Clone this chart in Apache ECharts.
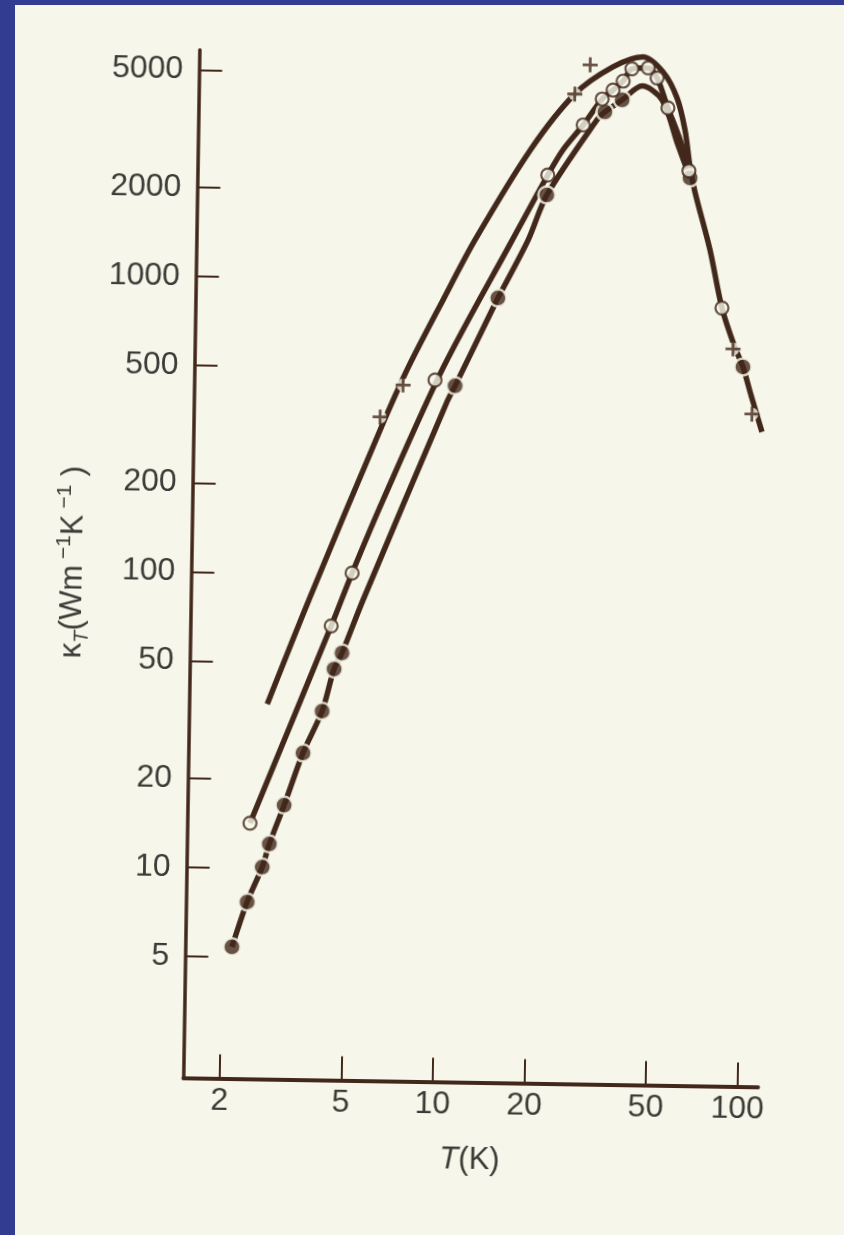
<!DOCTYPE html>
<html>
<head>
<meta charset="utf-8">
<title>kappa_T vs T</title>
<script src="https://cdn.jsdelivr.net/npm/echarts@6/dist/echarts.min.js"></script>
<style>
  html, body { margin: 0; padding: 0; width: 844px; height: 1235px; background: #323c91; overflow: hidden; }
  #paper { position: absolute; left: 15px; top: 5px; right: 0; bottom: 0; background: #f6f7ea; }
  /* the scanned figure sits slightly rotated on the slide */
  #chart { position: absolute; left: 0; top: 0; width: 844px; height: 1235px; transform: rotate(0.9deg); transform-origin: 422px 617.5px; }
</style>
</head>
<body>
<div id="paper"></div>
<div id="chart"></div>
<script>
  // 坐标轴刻度
  var xTicks = [2, 5, 10, 20, 50, 100]
  var yTicks = [5, 10, 20, 50, 100, 200, 500, 1000, 2000, 5000]
  var xMin = 1.52
  var xMax = 116.7
  var yMin = 1.935
  var yMax = 5847

  // 数据点 (T in K, kappa in W/m/K)
  var crossT = [6.21, 7.36, 26.0, 29.1, 88.5, 102.9]
  var crossK = [342, 440, 4340, 5460, 607, 366]

  var openT = [2.44, 4.40, 5.12, 9.36, 21.4, 27.8, 32.0, 34.7, 37.4, 39.9, 45.1, 48.3, 52.6, 62.1, 81.0]
  var openK = [14.2, 66.7, 101, 459, 2300, 3415, 4190, 4500, 4830, 5320, 5370, 4970, 3940, 2420, 834]

  var filledT = [2.16, 2.41, 2.69, 2.83, 3.15, 3.61, 4.15, 4.52, 4.79, 10.9, 14.9, 21.3, 32.7, 37.2, 62.7, 95.6]
  var filledK = [5.40, 7.68, 10.1, 12.1, 16.4, 24.7, 34.3, 47.7, 54.1, 440, 877, 1970, 3790, 4170, 2290, 528]

  // 曲线
  var topT = [2.74, 3.74, 6.22, 7.62, 9.85, 12.45, 18.7, 26.0, 34.6, 43.3, 50.5, 56.3, 60.0, 62.6, 65.2, 73.5, 81.0, 89.1, 95.6, 101.9, 111.2]
  var topK = [36.0, 83.4, 309, 503, 858, 1375, 2790, 4340, 5390, 5850, 5210, 4260, 3325, 2490, 2050, 1310, 834, 626, 528, 425, 319]

  var midT = [2.44, 4.40, 5.12, 6.41, 9.93, 16.5, 21.4, 23.9, 27.8, 32.0, 34.7, 37.4, 39.9, 45.1, 48.3, 52.6, 57.9, 62.1]
  var midK = [14.2, 66.7, 101, 179, 505, 1381, 2300, 2800, 3415, 4190, 4500, 4830, 5320, 5370, 4970, 3940, 3074, 2420]

  var lowT = [2.16, 2.41, 2.69, 2.83, 3.15, 3.61, 4.15, 4.52, 4.79, 5.58, 10.27, 10.9, 14.28, 14.9, 18.6, 21.3, 30.8, 32.7, 37.2, 43.2, 50.3, 57.0, 62.7]
  var lowK = [5.40, 7.68, 10.1, 12.1, 16.4, 24.7, 34.3, 47.7, 54.1, 82.0, 388, 440, 798, 877, 1384, 1970, 3556, 3790, 4170, 4660, 4190, 2955, 2290]

  var ink = '#42281b'
  var paper = '#f6f7ea'
  var textColor = '#3d3a37'
  var font = '"Liberation Sans", Arial, Helvetica, sans-serif'
  var lg = Math.log10

  function pairs(t, k) {
    return t.map(function (v, i) { return [v, k[i]] })
  }

  function curve(name, t, k) {
    return {
      name: name,
      type: 'line',
      xAxisIndex: 0,
      yAxisIndex: 0,
      data: pairs(t, k),
      showSymbol: false,
      smooth: 0.3,
      clip: false,
      silent: true,
      z: 2,
      lineStyle: { color: ink, width: 5.5, cap: 'butt' }
    }
  }

  var tickLabel = {
    fontSize: 32,
    fontFamily: font,
    color: textColor,
    formatter: function (v) { return String(Math.round(Math.pow(10, v))) }
  }

  var chart = echarts.init(document.getElementById('chart'), null, { renderer: 'canvas' })
  var option = {
    animation: false,
    backgroundColor: 'transparent',
    grid: { left: 190.6, top: 53.5, width: 574.8, height: 1028, outerBoundsMode: 'none' },
    xAxis: [
      { type: 'log', min: xMin, max: xMax, show: false, position: 'top' },
      {
        type: 'value',
        min: lg(xMin),
        max: lg(xMax),
        position: 'bottom',
        splitLine: { show: false },
        axisLine: { show: true, lineStyle: { color: ink, width: 4 } },
        axisTick: { show: true, inside: true, length: 24, customValues: xTicks.map(lg), lineStyle: { color: ink, width: 2 } },
        axisLabel: Object.assign({ margin: 7, customValues: xTicks.map(lg) }, tickLabel),
        name: '{i|T}{n|(K)}',
        nameLocation: 'middle',
        nameGap: 62,
        nameTextStyle: {
          color: textColor,
          fontFamily: font,
          rich: {
            i: { fontSize: 31, fontStyle: 'italic', fontFamily: font, color: textColor },
            n: { fontSize: 31, fontFamily: font, color: textColor }
          }
        }
      }
    ],
    yAxis: [
      { type: 'log', min: yMin, max: yMax, show: false, position: 'right' },
      {
        type: 'value',
        min: lg(yMin),
        max: lg(yMax),
        position: 'left',
        splitLine: { show: false },
        axisLine: { show: true, lineStyle: { color: ink, width: 3.5 } },
        axisTick: { show: true, inside: true, length: 23, customValues: yTicks.map(lg), lineStyle: { color: ink, width: 2 } },
        axisLabel: Object.assign({ margin: 16, customValues: yTicks.map(lg) }, tickLabel),
        name: '{n|κ}{sub|T}{n|(Wm}{sup| −1}{n|K}{sup| −1}{n| )}',
        nameLocation: 'middle',
        nameRotate: 90,
        nameGap: 90,
        nameTextStyle: {
          color: textColor,
          fontFamily: font,
          rich: {
            n: { fontSize: 31, lineHeight: 40, fontFamily: font, color: textColor },
            sub: { fontSize: 20, lineHeight: 20, fontStyle: 'italic', verticalAlign: 'bottom', fontFamily: font, color: textColor },
            sup: { fontSize: 21, lineHeight: 21, verticalAlign: 'top', fontFamily: font, color: textColor }
          }
        }
      }
    ],
    series: [
      curve('top', topT, topK),
      curve('middle', midT, midK),
      curve('low', lowT, lowK),
      {
        // gap in the line around each cross
        name: 'crossGap',
        type: 'scatter',
        data: pairs(crossT, crossK),
        symbol: 'circle',
        symbolSize: 13,
        itemStyle: { color: paper },
        silent: true,
        clip: false,
        z: 3
      },
      {
        name: 'filled',
        type: 'scatter',
        data: pairs(filledT, filledK),
        symbol: 'circle',
        symbolSize: 17,
        itemStyle: { color: ink, borderColor: paper, borderWidth: 2.5 },
        silent: true,
        clip: false,
        z: 4
      },
      {
        name: 'open',
        type: 'scatter',
        data: pairs(openT, openK),
        symbol: 'circle',
        symbolSize: 13,
        itemStyle: { color: paper, borderColor: ink, borderWidth: 2.2 },
        silent: true,
        clip: false,
        z: 5
      },
      {
        name: 'cross',
        type: 'scatter',
        data: pairs(crossT, crossK),
        symbol: 'path://M5.7,0H8.3V5.7H14V8.3H8.3V14H5.7V8.3H0V5.7H5.7Z',
        symbolSize: 15,
        itemStyle: { color: ink },
        silent: true,
        clip: false,
        z: 6
      }
    ]
  }
  chart.setOption(option)
</script>
</body>
</html>
